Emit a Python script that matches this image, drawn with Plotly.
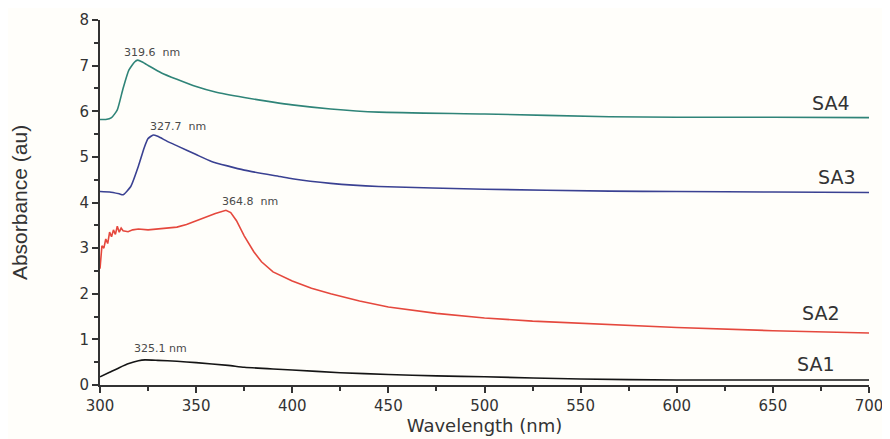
import plotly.graph_objects as go

# ---- data ----
sa4_wl = [300, 303, 306, 309, 312, 315, 318, 319.6, 322, 326, 332, 340, 350, 360, 375, 390, 400, 420, 445, 500, 565, 600, 650, 700]
sa4_val = [5.82, 5.82, 5.86, 6.03, 6.5, 6.9, 7.08, 7.12, 7.08, 6.98, 6.84, 6.7, 6.54, 6.42, 6.3, 6.2, 6.14, 6.05, 5.98, 5.94, 5.88, 5.87, 5.87, 5.86]

sa3_wl = [300, 305, 310, 312, 316, 320, 323, 325, 327.7, 330, 335, 340.7, 350, 358, 375, 393.6, 400, 420, 445, 500, 565, 600, 650, 700]
sa3_val = [4.24, 4.23, 4.19, 4.17, 4.35, 4.8, 5.2, 5.4, 5.48, 5.45, 5.34, 5.23, 5.05, 4.9, 4.71, 4.57, 4.52, 4.42, 4.35, 4.29, 4.25, 4.24, 4.23, 4.22]

sa2_wl = [300, 300.5, 301, 302, 303, 304, 305, 306, 307, 308, 309, 310, 311, 312, 314.6, 317, 320, 325, 330, 335, 340, 345, 350, 355, 360, 365.5, 368, 371, 375, 380, 384, 390, 400, 410, 420, 435, 450, 475, 500, 525, 550, 600, 650, 700]
sa2_val = [2.55, 2.95, 3.05, 3.0, 3.2, 3.1, 3.35, 3.25, 3.4, 3.3, 3.48, 3.35, 3.44, 3.38, 3.36, 3.4, 3.42, 3.4, 3.42, 3.44, 3.46, 3.52, 3.6, 3.68, 3.76, 3.83, 3.78, 3.6, 3.27, 2.92, 2.7, 2.48, 2.28, 2.12, 2.0, 1.84, 1.71, 1.57, 1.47, 1.4, 1.35, 1.26, 1.19, 1.14]

sa1_wl = [300, 305, 310, 315, 320, 323.4, 330, 340, 350, 366.6, 375, 390, 400, 425, 450, 475, 500, 550, 600, 650, 700]
sa1_val = [0.18, 0.28, 0.38, 0.47, 0.53, 0.55, 0.54, 0.52, 0.49, 0.43, 0.39, 0.35, 0.33, 0.27, 0.23, 0.2, 0.18, 0.13, 0.11, 0.11, 0.11]

series_names = ["SA4", "SA3", "SA2", "SA1"]
peak_labels = ["319.6  nm", "327.7  nm", "364.8  nm", "325.1 nm"]
peak_label_x = [311.4, 325.0, 362.4, 316.6]
peak_label_y = [7.28, 5.66, 4.03, 0.81]
name_label_x = [691.1, 694.2, 685.9, 683.3]
name_label_y = [6.18, 4.56, 1.58, 0.46]

x_ticks = [300, 350, 400, 450, 500, 550, 600, 650, 700]
y_ticks = [0, 1, 2, 3, 4, 5, 6, 7, 8]

colors = ["#2f8478", "#3a4192", "#e5483d", "#151515"]

fig = go.Figure()
data = [(sa4_wl, sa4_val), (sa3_wl, sa3_val), (sa2_wl, sa2_val), (sa1_wl, sa1_val)]
for (wl, v), name, c in zip(data, series_names, colors):
    shape = "linear" if name == "SA2" else "spline"
    fig.add_trace(go.Scatter(x=wl, y=v, mode="lines", name=name,
                             line=dict(color=c, width=1.6, shape=shape, smoothing=0.5)))

for px, py, t in zip(peak_label_x, peak_label_y, peak_labels):
    fig.add_annotation(x=px, y=py, text=t.replace(" ", "&nbsp;"), showarrow=False,
                       xanchor="left", yanchor="middle",
                       font=dict(family="DejaVu Sans", size=11, color="#4a4a4a"))

for name, lx, ly in zip(series_names, name_label_x, name_label_y):
    fig.add_annotation(x=lx, y=ly, text=name, showarrow=False, xanchor="right",
                       yanchor="middle",
                       font=dict(family="DejaVu Sans", size=19, color="#333333"))

axis_common = dict(showline=True, linecolor="#333333", linewidth=2, ticks="outside",
                   tickcolor="#333333", ticklen=6, tickwidth=2, showgrid=False, zeroline=False,
                   automargin=False,
                   tickfont=dict(family="DejaVu Sans", size=15, color="#333333"))

fig.update_layout(
    width=882, height=431,
    paper_bgcolor="#fffefa", plot_bgcolor="#fffefa",
    margin=dict(l=92, r=21, t=12, b=54),
    showlegend=False,
    xaxis=dict(range=[300, 700], tickvals=x_ticks,
               title=dict(text="Wavelength (nm)", standoff=0,
                          font=dict(family="DejaVu Sans", size=18, color="#333333")),
               minor=dict(dtick=25, ticks="outside", ticklen=4, tickcolor="#333333", tickwidth=1.5),
               **axis_common),
    yaxis=dict(range=[0, 8], tickvals=y_ticks,
               title=dict(text="Absorbance (au)", standoff=52,
                          font=dict(family="Liberation Sans", size=21, color="#333333")),
               minor=dict(dtick=0.5, ticks="outside", ticklen=4, tickcolor="#333333", tickwidth=1.5),
               **axis_common),
)

fig.write_html("out.html")
